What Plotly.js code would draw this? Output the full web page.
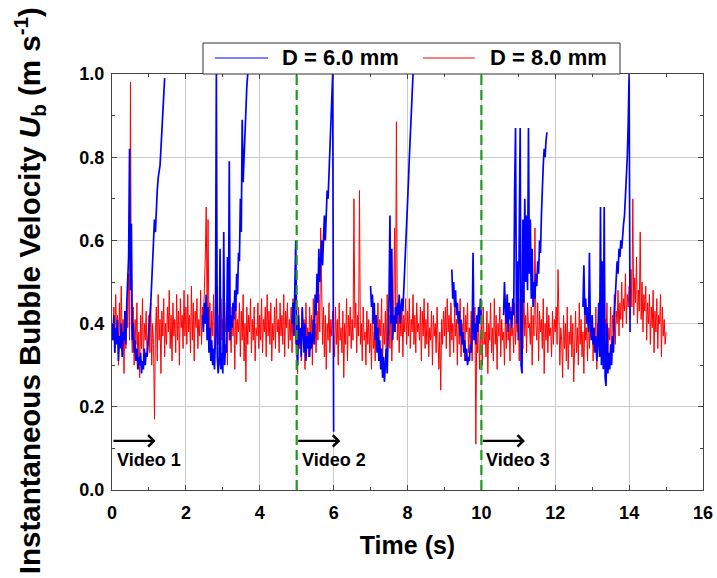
<!DOCTYPE html>
<html>
<head>
<meta charset="utf-8">
<script src="https://cdn.plot.ly/plotly-3.0.1.min.js"></script>
<style>
  html, body { margin: 0; padding: 0; background: #fff; }
  #chart { width: 717px; height: 578px; }
</style>
</head>
<body>
<div id="chart"></div>
<script>
// Instantaneous bubble rise velocity for two nozzle diameters.

// D = 8.0 mm: one sample every 0.025 s, from t = 0 s (one row per second)
const redStep = 0.025;
const redValues = [
  0.40,0.36,0.44,0.33,0.47,0.38,0.42,0.30,0.45,0.35,0.49,0.37,0.41,0.28,0.43,0.34,0.46,0.39,0.52,0.36,
  0.98,0.40,0.33,0.44,0.30,0.41,0.35,0.45,0.29,0.38,0.27,0.42,0.34,0.46,0.31,0.40,0.36,0.43,0.32,0.39,

  0.42,0.33,0.45,0.30,0.40,0.35,0.17,0.38,0.44,0.31,0.47,0.36,0.41,0.28,0.43,0.37,0.46,0.32,0.40,0.35,
  0.44,0.38,0.48,0.34,0.42,0.31,0.45,0.37,0.41,0.33,0.47,0.36,0.43,0.30,0.46,0.39,0.42,0.34,0.48,0.37,

  0.44,0.35,0.47,0.38,0.42,0.33,0.49,0.36,0.45,0.31,0.43,0.39,0.46,0.34,0.41,0.37,0.48,0.35,0.44,0.40,
  0.47,0.56,0.68,0.42,0.65,0.38,0.45,0.33,0.43,0.37,0.47,0.32,0.44,0.39,0.49,0.35,0.42,0.30,0.46,0.36,

  0.41,0.34,0.45,0.38,0.43,0.30,0.47,0.36,0.40,0.33,0.44,0.37,0.42,0.29,0.46,0.35,0.41,0.38,0.45,0.32,
  0.43,0.36,0.47,0.31,0.40,0.26,0.44,0.35,0.42,0.38,0.46,0.33,0.41,0.36,0.44,0.31,0.39,0.37,0.45,0.34,

  0.42,0.36,0.46,0.33,0.41,0.38,0.44,0.32,0.47,0.37,0.43,0.35,0.45,0.31,0.40,0.36,0.44,0.34,0.46,0.38,
  0.41,0.33,0.45,0.37,0.42,0.35,0.47,0.32,0.43,0.39,0.45,0.34,0.41,0.36,0.44,0.33,0.46,0.38,0.42,0.35,

  0.40,0.28,0.44,0.34,0.38,0.31,0.43,0.36,0.41,0.29,0.45,0.35,0.39,0.32,0.44,0.37,0.42,0.30,0.46,0.35,
  0.40,0.33,0.43,0.36,0.47,0.38,0.63,0.41,0.35,0.44,0.32,0.42,0.29,0.40,0.36,0.45,0.33,0.41,0.37,0.43,

  0.38,0.32,0.44,0.35,0.41,0.30,0.45,0.36,0.39,0.33,0.43,0.27,0.40,0.35,0.46,0.31,0.42,0.37,0.44,0.34,
  0.41,0.36,0.70,0.39,0.45,0.33,0.42,0.37,0.72,0.35,0.40,0.31,0.44,0.36,0.38,0.30,0.43,0.35,0.41,0.33,

  0.40,0.29,0.44,0.34,0.38,0.31,0.42,0.36,0.45,0.33,0.41,0.37,0.46,0.30,0.40,0.35,0.43,0.32,0.47,0.36,
  0.42,0.34,0.45,0.31,0.40,0.44,0.63,0.38,0.885,0.36,0.43,0.33,0.41,0.37,0.45,0.32,0.42,0.38,0.46,0.35,

  0.43,0.37,0.46,0.34,0.41,0.38,0.47,0.35,0.42,0.33,0.45,0.38,0.40,0.36,0.44,0.31,0.43,0.37,0.46,0.34,
  0.41,0.35,0.45,0.32,0.39,0.36,0.43,0.30,0.42,0.37,0.40,0.33,0.44,0.36,0.29,0.38,0.24,0.41,0.35,0.43,

  0.37,0.44,0.34,0.46,0.38,0.42,0.32,0.45,0.36,0.40,0.33,0.44,0.37,0.41,0.30,0.43,0.35,0.46,0.32,0.40,
  0.36,0.44,0.31,0.42,0.38,0.45,0.33,0.39,0.35,0.43,0.31,0.41,0.37,0.44,0.11,0.39,0.33,0.42,0.29,0.36,

  0.41,0.30,0.44,0.35,0.38,0.32,0.43,0.28,0.40,0.36,0.45,0.33,0.39,0.31,0.46,0.35,0.42,0.29,0.40,0.37,
  0.44,0.32,0.41,0.36,0.38,0.30,0.43,0.34,0.47,0.36,0.40,0.31,0.44,0.37,0.39,0.33,0.45,0.35,0.41,0.38,

  0.43,0.31,0.46,0.36,0.41,0.34,0.48,0.37,0.42,0.33,0.45,0.39,0.40,0.35,0.44,0.30,0.42,0.37,0.63,0.40,
  0.36,0.45,0.31,0.43,0.38,0.41,0.34,0.46,0.28,0.40,0.36,0.44,0.33,0.42,0.37,0.39,0.32,0.43,0.35,0.41,

  0.38,0.44,0.35,0.53,0.41,0.30,0.39,0.36,0.27,0.42,0.34,0.40,0.31,0.44,0.29,0.38,0.35,0.42,0.32,0.40,
  0.26,0.37,0.43,0.33,0.39,0.30,0.45,0.35,0.41,0.32,0.38,0.28,0.42,0.36,0.39,0.31,0.44,0.34,0.40,0.37,

  0.42,0.31,0.39,0.35,0.44,0.29,0.40,0.36,0.46,0.32,0.38,0.34,0.43,0.30,0.41,0.37,0.45,0.33,0.39,0.36,
  0.44,0.31,0.42,0.38,0.47,0.35,0.43,0.40,0.48,0.37,0.45,0.41,0.50,0.39,0.46,0.43,0.52,0.40,0.47,0.44,

  0.49,0.41,0.53,0.44,0.70,0.42,0.51,0.45,0.56,0.40,0.48,0.43,0.62,0.41,0.50,0.38,0.47,0.43,0.49,0.36,
  0.45,0.40,0.47,0.35,0.44,0.39,0.48,0.33,0.43,0.38,0.46,0.34,0.42,0.40,0.47,0.32,0.44,0.37,0.41,0.35,

  0.38
];

// D = 6.0 mm: separate tracked runs, one sample every 0.025 s from each start time
const blueStep = 0.025;
const blueStarts = [0.0, 2.45, 4.875, 7.0, 9.2, 10.6, 12.75];
const blueRun1 = [
  0.40,0.36,0.42,0.33,0.39,0.35,0.41,0.31,0.37,0.34,0.40,0.32,0.38,0.36,0.43,0.35,0.45,
  0.52,0.56,0.82,0.48,0.64,0.36,0.40,0.33,
  0.36,0.31,0.34,0.29,0.32,0.30,0.33,0.28,0.31,0.29,0.34,0.30,0.33,0.32,
  0.35,0.38,0.41,0.45,0.50,0.55,0.60,0.65,0.62,0.69,0.72,0.75,0.77,0.78,0.82,0.86,0.90,0.95,0.99
];
const blueRun2 = [
  0.42,0.38,0.45,0.40,0.47,0.36,0.44,0.33,0.39,0.31,
  0.36,0.30,0.34,0.29,0.37,1.00,0.32,0.28,0.31,0.58,
  0.29,0.33,0.28,0.62,0.30,0.35,0.33,0.56,0.38,0.79,
  0.36,0.42,0.39,0.45,0.41,0.48,0.43,0.52,0.47,0.57,
  0.55,0.70,0.62,0.89,0.74,0.80,0.88,0.92,0.97,1.00
];
const blueRun3 = [
  0.40,0.45,0.37,0.55,0.60,0.34,0.30,0.42,0.35,0.39,
  0.32,0.44,0.36,0.33,0.40,0.31,0.37,0.34,0.38,0.32,
  0.38,0.34,0.36,0.41,0.35,0.47,0.42,0.52,0.45,0.58,
  0.50,0.56,0.60,0.54,0.63,0.66,0.60,0.67,0.72,0.70,
  0.76,0.82,0.88,0.94,1.00,0.14
];
const blueRun4 = [
  0.49,0.44,0.47,0.40,0.45,0.36,0.42,0.33,0.39,0.31,
  0.36,0.29,0.34,0.27,0.32,0.26,0.30,0.34,0.28,0.38,
  0.46,0.66,0.40,0.58,0.36,0.42,0.38,0.44,0.40,0.45,
  0.42,0.47,0.40,0.44,0.46,0.43,0.48,0.52,0.56,0.62,
  0.68,0.74,0.80,0.86,0.92,0.97,1.00
];
const blueRun5 = [
  0.53,0.46,0.50,0.44,0.48,0.42,0.45,0.40,0.43,0.37,
  0.41,0.35,0.38,0.33,0.36,0.31,0.34,0.30,0.32,0.31,
  0.35,0.33,0.38,0.57,0.36,0.40,0.35,0.42,0.38,0.44,
  0.40,0.46,0.41
];
const blueRun6 = [
  0.42,0.50,0.44,0.40,0.47,0.38,0.45,0.41,0.43,0.39,
  0.46,0.42,0.72,0.87,0.40,0.55,0.36,0.62,0.87,0.30,
  0.28,0.65,0.45,0.70,0.50,0.66,0.48,0.87,0.52,0.65,
  0.46,0.58,0.44,0.50,0.46,0.52,0.49,0.55,0.52,0.60,
  0.57,0.66,0.76,0.78,0.82,0.80,0.84,0.86
];
const blueRun7 = [
  0.44,0.54,0.42,0.46,0.40,0.44,0.38,0.57,0.40,0.36,
  0.42,0.35,0.39,0.33,0.37,0.31,0.35,0.45,0.32,0.68,
  0.30,0.55,0.29,0.68,0.27,0.25,0.40,0.28,0.33,0.29,
  0.35,0.30,0.37,0.33,0.42,0.46,0.50,0.55,0.52,0.58,
  0.56,0.60,0.58,0.62,0.64,0.66,0.70,0.74,0.80,0.88,
  1.00,0.38
];
const blueRuns = [blueRun1, blueRun2, blueRun3, blueRun4, blueRun5, blueRun6, blueRun7];

// video recording windows
const videoStarts = [0, 5, 10];
const videoLabels = ['Video 1', 'Video 2', 'Video 3'];

const seriesNames = ['D = 6.0 mm', 'D = 8.0 mm'];
const seriesColors = ['#0000ff', '#ff0000'];
const xTicks = [0, 2, 4, 6, 8, 10, 12, 14, 16];
const yTicks = [0.0, 0.2, 0.4, 0.6, 0.8, 1.0];
const yTitle = '<b>Instantaneous Bubble Velocity <i>U</i><sub>b</sub> (m s<sup>-1</sup>)</b>';

// time axes for the sampled series
const redTime = redValues.map((_, i) => +(i * redStep).toFixed(4));
const blueTime = [];
const blueVel = [];
blueRuns.forEach((run, k) => {
  run.forEach((v, i) => {
    blueTime.push(+(blueStarts[k] + i * blueStep).toFixed(4));
    blueVel.push(v);
  });
  blueTime.push(null);
  blueVel.push(null);
});

const FONT = 'Arial, "Liberation Sans", sans-serif';

const traces = [
  {
    x: redTime, y: redValues, type: 'scatter', mode: 'lines', name: seriesNames[1],
    line: { color: seriesColors[1], width: 1 }
  },
  {
    x: blueTime, y: blueVel, type: 'scatter', mode: 'lines', name: seriesNames[0],
    connectgaps: false,
    line: { color: seriesColors[0], width: 1.7 }
  }
];

const annotations = [];
videoStarts.forEach((t0, k) => {
  annotations.push({
    x: t0 + 1.18, y: 0.118, xref: 'x', yref: 'y',
    ax: t0, ay: 0.118, axref: 'x', ayref: 'y',
    text: '', showarrow: true, arrowhead: 4, arrowsize: 1, arrowwidth: 2.2,
    arrowcolor: '#000', standoff: 0, startstandoff: 0
  });
  annotations.push({
    x: t0 + 0.08, y: 0.072, xref: 'x', yref: 'y', xanchor: 'left', yanchor: 'middle',
    text: '<b>' + videoLabels[k] + '</b>', showarrow: false,
    font: { family: FONT, size: 18, color: '#000' }
  });
});

// vertical axis title, placed beside the tick labels
annotations.push({
  x: -0.1387, y: 0.478, xref: 'paper', yref: 'paper',
  xanchor: 'center', yanchor: 'middle', textangle: -90, showarrow: false,
  text: yTitle, font: { family: FONT, size: 29.5, color: '#000' }
});

const shapes = videoStarts.filter(t => t > 0).map(t => ({
  type: 'line', xref: 'x', yref: 'paper', x0: t, x1: t, y0: 0, y1: 1,
  line: { color: '#1f9a1f', width: 2.2, dash: '10px,5px' }
}));

// key box sitting on top of the frame
const keyBox = { x0: 0.154, x1: 0.8596, y0: 1.0, y1: 1.0745, lineY: 1.0385 };
const keyLines = [[0.174, 0.264], [0.526, 0.614]];
const keyText = [0.284, 0.636];
shapes.push({
  type: 'rect', xref: 'paper', yref: 'paper',
  x0: keyBox.x0, x1: keyBox.x1, y0: keyBox.y0, y1: keyBox.y1,
  fillcolor: '#fff', line: { color: '#333', width: 1 }
});
seriesNames.forEach((name, k) => {
  shapes.push({
    type: 'line', xref: 'paper', yref: 'paper',
    x0: keyLines[k][0], x1: keyLines[k][1], y0: keyBox.lineY, y1: keyBox.lineY,
    line: { color: seriesColors[k], width: 1.2 }
  });
  annotations.push({
    x: keyText[k], y: keyBox.lineY, xref: 'paper', yref: 'paper',
    xanchor: 'left', yanchor: 'middle', showarrow: false,
    text: '<b>' + name + '</b>',
    font: { family: FONT, size: 22, color: '#000' }
  });
});

const axisCommon = {
  showline: true, linecolor: '#444', linewidth: 1, mirror: 'allticks',
  ticks: 'inside', ticklen: 5, tickwidth: 1, tickcolor: '#444',
  showgrid: true, gridcolor: '#cccccc', gridwidth: 1, zeroline: false,
  tickfont: { family: FONT, size: 18, color: '#000', weight: 'bold' }
};

const layout = {
  width: 717, height: 578,
  margin: { l: 112, r: 14, t: 74, b: 88 },
  paper_bgcolor: '#fff', plot_bgcolor: '#fff',
  showlegend: false,
  xaxis: Object.assign({}, axisCommon, {
    range: [0, 16], tickvals: xTicks, ticktext: xTicks.map(String),
    ticklabelstandoff: 6,
    minor: { dtick: 1, ticks: 'inside', ticklen: 3, tickcolor: '#444', showgrid: false },
    title: { text: '<b>Time (s)</b>', font: { family: FONT, size: 25, color: '#000' }, standoff: 14 }
  }),
  yaxis: Object.assign({}, axisCommon, {
    range: [0, 1.0], tickvals: yTicks, ticktext: yTicks.map(v => v.toFixed(1)),
    ticklabelstandoff: 3,
    minor: { dtick: 0.1, ticks: 'inside', ticklen: 3, tickcolor: '#444', showgrid: false }
  }),
  shapes: shapes,
  annotations: annotations
};

Plotly.newPlot('chart', traces, layout, { displayModeBar: false, staticPlot: true });
</script>
</body>
</html>
